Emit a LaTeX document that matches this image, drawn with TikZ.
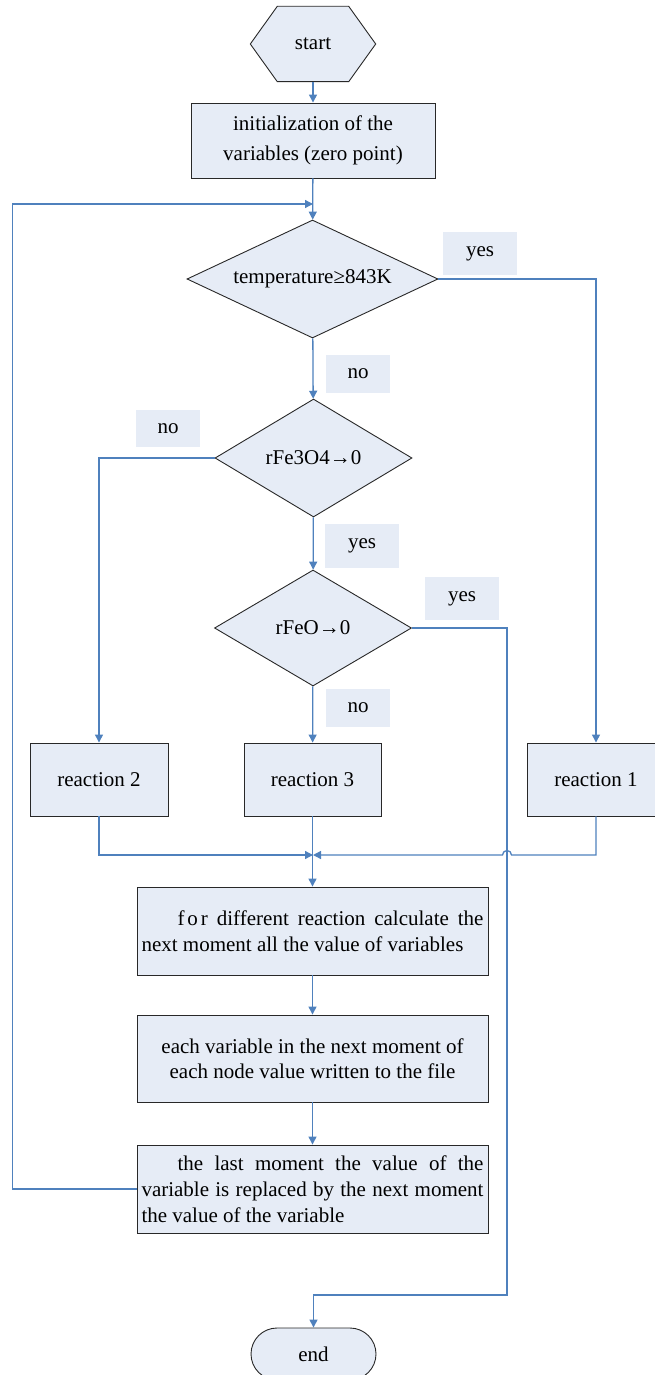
\documentclass[tikz,border=0pt]{standalone}
\usepackage{fontspec}
\setmainfont{Liberation Serif}
\usetikzlibrary{shapes.geometric,shapes.misc,arrows.meta,backgrounds}
\definecolor{boxfill}{RGB}{230,236,246}
\definecolor{flowline}{RGB}{79,129,189}
\definecolor{boxedge}{RGB}{40,40,40}
\tikzset{
  txt/.style={font=\fontsize{21}{26}\selectfont},
  base/.style={txt,fill=boxfill,draw=boxedge,line width=0.9pt,inner sep=0pt},
  procbox/.style={base,rectangle,minimum width=138pt,minimum height=73pt},
  widebox/.style={base,rectangle,minimum width=351pt,minimum height=88pt},
  decision/.style={base,diamond,aspect=3,minimum width=197pt,minimum height=118pt},
  lbl/.style={txt,fill=boxfill,inner sep=0pt,minimum width=74pt,minimum height=43pt},
  flow/.style={draw=flowline,line width=1.3pt,-{Triangle[length=8pt,width=8pt]}},
}
\begin{document}
\begin{tikzpicture}[x=1pt,y=-1pt]
  \useasboundingbox (0,0) rectangle (654,1375);
  % start and initialization
  \node[txt,minimum width=125pt,minimum height=75pt,inner sep=0pt] (start) at (313,44) {start};
  \begin{pgfonlayer}{background}
    \filldraw[fill=boxfill,draw=boxedge,line width=0.9pt]
      ([xshift=27pt]start.north west) -- ([xshift=-27pt]start.north east) -- (start.east)
      -- ([xshift=-27pt]start.south east) -- ([xshift=27pt]start.south west) -- (start.west) -- cycle;
  \end{pgfonlayer}
  \node[base,minimum width=244pt,minimum height=75pt,align=center,
        font=\fontsize{21}{30}\selectfont] (init) at (313,140.5)
        {initialization of the\\variables (zero point)};
  \coordinate (loopin) at (313,204);

  % decisions
  \node[decision,minimum width=251pt] (temp) at (312.5,279) {temperature≥843K};
  \node[decision] (fe3o4) at (313.5,458) {rFe3O4→0};
  \node[decision,minimum height=116pt] (feo) at (313,628) {rFeO→0};

  \node[lbl] (yesA) at (480,253.5) {yes};
  \node[lbl,minimum width=64pt,minimum height=38pt] (noA) at (358,374) {no};
  \node[lbl,minimum width=64pt,minimum height=37pt] (noB) at (168,428.5) {no};
  \node[lbl,minimum height=44pt] (yesB) at (362,546) {yes};
  \node[lbl] (yesC) at (462,598.5) {yes};
  \node[lbl,minimum width=64pt,minimum height=38pt] (noC) at (358,708) {no};

  % reactions
  \node[procbox] (react2) at (99,779.5) {reaction 2};
  \node[procbox,minimum width=137pt] (react3) at (312.5,779.5) {reaction 3};
  \node[procbox] (react1) at (596,779.5) {reaction 1};
  \coordinate (merge) at (313,855);
  \coordinate (jump) at (507,855);
  \coordinate (yturn) at (507,1295);

  % calculation steps
  \node[widebox,text width=342pt,align=justify] (calc) at (312.5,931)
    {\hspace*{36pt}f\hspace{3pt}o\hspace{3pt}r different reaction calculate the\linebreak
     next moment all the value of variables};
  \node[widebox,minimum height=87pt,align=center,font=\fontsize{21}{25}\selectfont] (write) at (312.5,1058.5)
    {each variable in the next moment of\\each node value written to the file};
  \node[widebox,text width=342pt,align=justify] (swap) at (312.5,1189)
    {\hspace*{36pt}the last moment the value of the\linebreak
     variable is replaced by the next moment\linebreak
     the value of the variable};
  \node[base,rounded rectangle,minimum width=125pt,minimum height=52pt] (finish) at (313.5,1354) {end};

  % connectors
  \draw[flow] (start) -- (init);
  \draw[flow] (init) -- (temp);
  \draw[flow] (swap.west) -- ++(-124,0) |- (loopin);
  \draw[flow] (temp.east) -| (react1.north);
  \draw[flow] (temp) -- (fe3o4);
  \draw[flow] (fe3o4.west) -| (react2.north);
  \draw[flow] (fe3o4) -- (feo);
  \draw[flow] (feo) -- (react3);
  \draw[flow] (feo.east) -| (yturn) -| (finish.north);
  \draw[flow] (react2.south) |- (merge);
  \draw[flow] (react1.south) |- ([xshift=4.5pt]jump)
    arc[start angle=0,end angle=180,radius=4.5pt] -- (merge);
  \draw[flow] (react3) -- (calc);
  \draw[flow] (calc) -- (write);
  \draw[flow] (write) -- (swap);
\end{tikzpicture}
\end{document}
